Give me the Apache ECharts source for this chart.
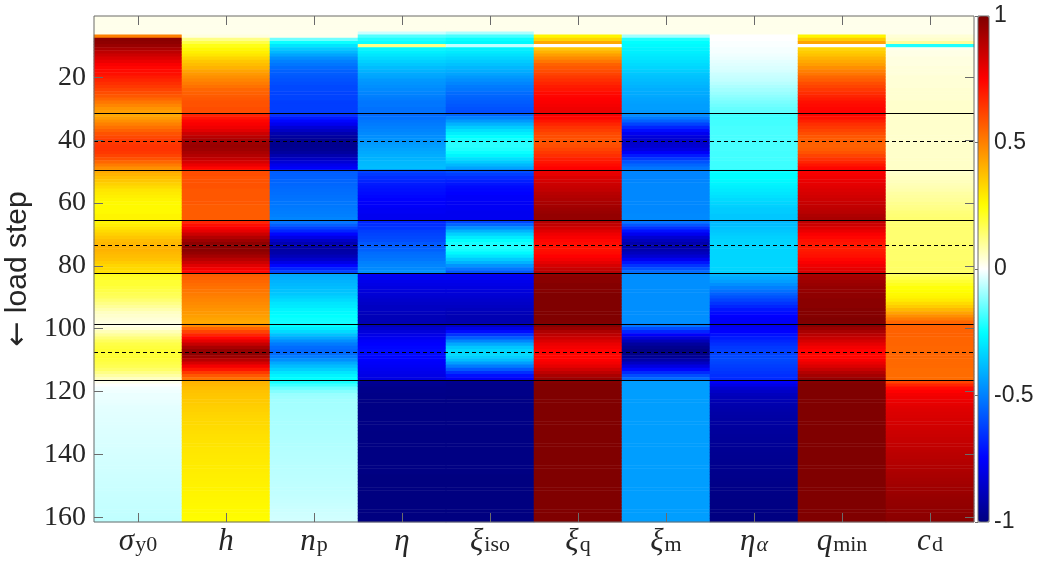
<!DOCTYPE html>
<html><head><meta charset="utf-8">
<script src="https://cdn.jsdelivr.net/npm/echarts@6/dist/echarts.min.js"></script>
<style>html,body{margin:0;padding:0;background:#fff}#c{width:1042px;height:562px}</style>
</head><body><div id="c"></div>
<script>
// ---- tick labels / categories ----
const paramSymbols = ['σ','h','n','η','ξ','ξ','ξ','η','q','c'];
const paramSubs    = ['y0','','p','','iso','q','m','α','min','d'];
const yTickSteps = [20,40,60,80,100,120,140,160];
const colorbarTicks = [-1,-0.5,0,0.5,1];
const solidLines  = [31.5,49.5,65.5,82.5,98.5,116.5];
const dashedLines = [40.5,73.5,107.5];
const nSteps = 161;

// ---- series values (one value per load step 1..161) ----
const sigmaY0 = [0.02,0.02,0.02,0.02,0.02,0.02,
 0.5,
 0.98,0.97,0.95,0.92,0.88,0.85,0.82,0.79,0.76,0.74,0.73,0.72,0.70,0.68,0.66,0.64,0.62,0.60,0.58,0.55,0.52,0.49,0.46,0.44,
 0.42,0.44,0.47,0.50,0.53,0.56,0.59,0.61,0.63,0.64,0.65,0.65,0.64,0.62,0.59,0.55,0.51,0.47,
 0.42,0.40,0.38,0.36,0.34,0.32,0.30,0.29,0.28,0.27,0.26,0.26,0.26,0.26,0.27,0.27,
 0.27,0.28,0.30,0.32,0.34,0.36,0.38,0.39,0.40,0.40,0.39,0.38,0.37,0.35,0.33,0.32,0.31,
 0.22,0.21,0.20,0.20,0.19,0.18,0.17,0.16,0.14,0.12,0.10,0.08,0.06,0.05,0.04,0.03,
 0.02,0.04,0.07,0.10,0.13,0.16,0.18,0.19,0.20,0.20,0.20,0.19,0.18,0.17,0.15,0.12,0.09,0.06,
 0.02,0.00,-0.01,-0.015,-0.02,-0.02,-0.022,-0.024,-0.026,-0.027,-0.028,-0.029,-0.03,-0.031,-0.032,-0.033,-0.034,-0.035,-0.036,-0.037,-0.038,-0.039,-0.04,-0.041,-0.042,-0.043,-0.044,-0.045,-0.046,-0.047,-0.048,-0.049,-0.05,-0.051,-0.052,-0.053,-0.054,-0.055,-0.056,-0.057,-0.058,-0.059,-0.06,-0.061,-0.062];

const hardening = [0.02,0.02,0.02,0.02,0.02,0.02,
 0.03,
 0.12,0.18,0.23,0.26,0.28,0.30,0.33,0.36,0.38,0.40,0.43,0.45,0.47,0.49,0.51,0.53,0.55,0.56,0.57,0.58,0.59,0.59,0.60,0.60,
 0.68,0.71,0.74,0.76,0.78,0.81,0.85,0.89,0.92,0.94,0.95,0.94,0.92,0.90,0.87,0.83,0.79,0.74,
 0.60,0.60,0.59,0.59,0.59,0.59,0.58,0.58,0.58,0.58,0.58,0.57,0.57,0.57,0.57,0.57,
 0.68,0.72,0.76,0.80,0.85,0.90,0.94,0.97,0.98,0.98,0.96,0.93,0.89,0.85,0.81,0.77,0.74,
 0.57,0.56,0.55,0.54,0.53,0.52,0.51,0.50,0.49,0.48,0.47,0.46,0.45,0.44,0.43,0.42,
 0.48,0.55,0.62,0.68,0.74,0.80,0.86,0.92,0.96,0.97,0.94,0.89,0.83,0.77,0.71,0.64,0.58,0.53,
 0.40,0.39,0.38,0.37,0.365,0.36,0.355,0.35,0.345,0.34,0.335,0.33,0.327,0.324,0.321,0.318,0.315,0.312,0.309,0.306,0.303,0.30,0.298,0.296,0.294,0.292,0.29,0.288,0.286,0.284,0.282,0.28,0.278,0.276,0.274,0.272,0.27,0.268,0.266,0.264,0.262,0.26,0.258,0.256,0.254];

const nP = [0.02,0.02,0.02,0.02,0.02,0.02,
 0.02,
 -0.14,-0.24,-0.30,-0.35,-0.39,-0.43,-0.47,-0.50,-0.52,-0.54,-0.56,-0.57,-0.58,-0.59,-0.60,-0.61,-0.61,-0.62,-0.62,-0.62,-0.63,-0.63,-0.63,-0.63,
 -0.65,-0.70,-0.74,-0.78,-0.83,-0.87,-0.91,-0.94,-0.96,-0.97,-0.97,-0.96,-0.94,-0.91,-0.87,-0.83,-0.79,-0.76,
 -0.57,-0.565,-0.56,-0.555,-0.55,-0.545,-0.54,-0.535,-0.53,-0.525,-0.52,-0.515,-0.51,-0.505,-0.50,-0.49,
 -0.52,-0.56,-0.62,-0.68,-0.74,-0.80,-0.86,-0.90,-0.92,-0.93,-0.92,-0.89,-0.85,-0.80,-0.74,-0.68,-0.62,
 -0.42,-0.41,-0.40,-0.39,-0.38,-0.37,-0.36,-0.34,-0.32,-0.30,-0.29,-0.27,-0.26,-0.25,-0.24,-0.23,
 -0.25,-0.28,-0.32,-0.37,-0.42,-0.47,-0.51,-0.54,-0.55,-0.54,-0.51,-0.47,-0.42,-0.38,-0.34,-0.30,-0.27,-0.25,
 -0.23,-0.19,-0.15,-0.12,-0.10,-0.095,-0.09,-0.089,-0.088,-0.087,-0.086,-0.085,-0.084,-0.083,-0.082,-0.081,-0.08,-0.079,-0.078,-0.077,-0.076,-0.075,-0.074,-0.073,-0.072,-0.071,-0.07,-0.069,-0.068,-0.067,-0.066,-0.065,-0.064,-0.063,-0.062,-0.061,-0.06,-0.058,-0.056,-0.054,-0.052,-0.05,-0.048,-0.046,-0.044];

const eta = [0.02,0.02,0.02,0.02,0.02,-0.05,
 -0.17,-0.22,-0.24,0.12,-0.26,-0.28,-0.30,-0.32,-0.34,-0.36,-0.38,-0.40,-0.42,-0.43,-0.45,-0.46,-0.47,-0.48,-0.49,-0.50,-0.51,-0.52,-0.52,-0.53,-0.53,
 -0.54,-0.53,-0.52,-0.51,-0.50,-0.49,-0.48,-0.47,-0.46,-0.45,-0.44,-0.43,-0.42,-0.41,-0.40,-0.39,-0.385,-0.38,
 -0.62,-0.64,-0.66,-0.68,-0.70,-0.71,-0.72,-0.73,-0.74,-0.75,-0.76,-0.76,-0.77,-0.77,-0.78,-0.78,
 -0.68,-0.66,-0.65,-0.63,-0.62,-0.61,-0.60,-0.58,-0.57,-0.56,-0.54,-0.53,-0.52,-0.50,-0.49,-0.48,-0.47,
 -0.77,-0.78,-0.79,-0.80,-0.81,-0.82,-0.83,-0.84,-0.85,-0.86,-0.87,-0.87,-0.88,-0.89,-0.89,-0.90,
 -0.88,-0.85,-0.82,-0.80,-0.78,-0.76,-0.75,-0.74,-0.73,-0.73,-0.74,-0.75,-0.76,-0.77,-0.78,-0.79,-0.80,-0.81,
 -0.96,-0.97,-0.98,-0.98,-0.985,-0.985,-0.99,-0.99,-0.99,-0.99,-0.99,-0.99,-0.99,-0.99,-0.99,-0.99,-0.995,-0.995,-0.995,-0.995,-0.995,-0.995,-0.995,-0.995,-0.995,-0.995,-0.995,-0.995,-0.995,-0.995,-1,-1,-1,-1,-1,-1,-1,-1,-1,-1,-1,-1,-1,-1,-1];

const xiIso = [0.02,0.02,0.02,0.02,0.02,-0.08,
 -0.18,-0.24,-0.26,-0.06,-0.27,-0.29,-0.31,-0.33,-0.35,-0.37,-0.39,-0.41,-0.43,-0.45,-0.47,-0.49,-0.51,-0.52,-0.54,-0.55,-0.56,-0.57,-0.58,-0.59,-0.60,
 -0.55,-0.50,-0.45,-0.40,-0.35,-0.31,-0.28,-0.25,-0.23,-0.21,-0.21,-0.22,-0.24,-0.27,-0.31,-0.35,-0.39,-0.43,
 -0.60,-0.63,-0.66,-0.69,-0.71,-0.73,-0.74,-0.75,-0.76,-0.76,-0.77,-0.77,-0.77,-0.78,-0.78,-0.78,
 -0.62,-0.55,-0.47,-0.40,-0.34,-0.29,-0.25,-0.23,-0.22,-0.23,-0.26,-0.30,-0.35,-0.40,-0.46,-0.52,-0.58,
 -0.77,-0.78,-0.79,-0.80,-0.81,-0.82,-0.83,-0.84,-0.85,-0.86,-0.87,-0.88,-0.89,-0.90,-0.90,-0.91,
 -0.86,-0.80,-0.73,-0.65,-0.57,-0.49,-0.42,-0.36,-0.33,-0.32,-0.34,-0.38,-0.44,-0.51,-0.58,-0.66,-0.72,-0.77,
 -0.97,-0.98,-0.98,-0.985,-0.985,-0.99,-0.99,-0.99,-0.99,-0.99,-0.99,-0.99,-0.99,-0.99,-0.99,-0.995,-0.995,-0.995,-0.995,-0.995,-0.995,-0.995,-0.995,-0.995,-0.995,-0.995,-0.995,-0.995,-0.995,-0.995,-1,-1,-1,-1,-1,-1,-1,-1,-1,-1,-1,-1,-1,-1,-1];

const xiQ = [0.02,0.02,0.02,0.02,0.02,0.02,
 0.27,0.33,0.42,0.0,0.36,0.40,0.44,0.48,0.52,0.56,0.58,0.60,0.62,0.64,0.66,0.68,0.70,0.71,0.73,0.74,0.75,0.76,0.77,0.78,0.79,
 0.76,0.74,0.71,0.68,0.65,0.63,0.61,0.60,0.59,0.59,0.60,0.62,0.64,0.66,0.69,0.71,0.73,0.75,
 0.79,0.80,0.82,0.83,0.85,0.86,0.87,0.89,0.90,0.91,0.92,0.93,0.94,0.95,0.96,0.96,
 0.90,0.87,0.84,0.81,0.78,0.76,0.74,0.73,0.72,0.72,0.73,0.75,0.77,0.80,0.83,0.86,0.89,
 0.97,0.98,0.98,0.99,0.99,0.99,1,1,1,1,1,1,1,1,1,1,
 0.98,0.95,0.91,0.88,0.85,0.82,0.79,0.77,0.75,0.74,0.74,0.75,0.77,0.80,0.84,0.88,0.92,0.95,
 0.99,1,1,1,1,1,1,1,1,1,1,1,1,1,1,1,1,1,1,1,1,1,1,1,1,1,1,1,1,1,1,1,1,1,1,1,1,1,1,1,1,1,1,1,1];

const xiM = [0.02,0.02,0.02,0.02,0.02,0.02,
 -0.09,-0.22,-0.25,-0.26,-0.27,-0.28,-0.29,-0.30,-0.31,-0.32,-0.33,-0.345,-0.36,-0.37,-0.38,-0.39,-0.40,-0.41,-0.415,-0.42,-0.43,-0.435,-0.44,-0.44,-0.45,
 -0.47,-0.51,-0.56,-0.62,-0.68,-0.73,-0.78,-0.82,-0.84,-0.85,-0.84,-0.81,-0.76,-0.70,-0.64,-0.59,-0.55,-0.52,
 -0.49,-0.49,-0.49,-0.49,-0.485,-0.485,-0.485,-0.485,-0.485,-0.485,-0.485,-0.485,-0.485,-0.485,-0.48,-0.48,
 -0.52,-0.58,-0.65,-0.72,-0.78,-0.84,-0.88,-0.91,-0.92,-0.91,-0.88,-0.84,-0.78,-0.71,-0.65,-0.59,-0.54,
 -0.47,-0.47,-0.47,-0.47,-0.47,-0.47,-0.47,-0.47,-0.47,-0.47,-0.47,-0.47,-0.47,-0.47,-0.47,-0.47,
 -0.52,-0.60,-0.68,-0.76,-0.83,-0.89,-0.94,-0.97,-0.99,-0.98,-0.96,-0.92,-0.87,-0.81,-0.74,-0.67,-0.60,-0.54,
 -0.44,-0.44,-0.44,-0.44,-0.44,-0.44,-0.44,-0.44,-0.44,-0.44,-0.44,-0.44,-0.44,-0.44,-0.44,-0.44,-0.44,-0.44,-0.44,-0.44,-0.44,-0.44,-0.44,-0.44,-0.44,-0.44,-0.44,-0.44,-0.44,-0.44,-0.44,-0.44,-0.44,-0.44,-0.44,-0.44,-0.44,-0.44,-0.44,-0.44,-0.44,-0.44,-0.44,-0.44,-0.44];

const etaAlpha = [0.02,0.02,0.02,0.02,0.02,0.02,
 0.0,0.0,-0.005,-0.005,-0.01,-0.01,-0.015,-0.02,-0.025,-0.03,-0.035,-0.04,-0.05,-0.055,-0.06,-0.07,-0.08,-0.09,-0.10,-0.11,-0.12,-0.13,-0.14,-0.15,-0.16,
 -0.19,-0.19,-0.185,-0.185,-0.18,-0.18,-0.18,-0.18,-0.18,-0.18,-0.18,-0.18,-0.185,-0.185,-0.185,-0.19,-0.19,-0.19,
 -0.24,-0.25,-0.25,-0.26,-0.27,-0.28,-0.29,-0.30,-0.31,-0.32,-0.33,-0.34,-0.35,-0.35,-0.36,-0.36,
 -0.39,-0.38,-0.37,-0.36,-0.35,-0.34,-0.335,-0.33,-0.33,-0.33,-0.33,-0.33,-0.33,-0.33,-0.33,-0.33,-0.34,
 -0.40,-0.42,-0.44,-0.47,-0.50,-0.53,-0.56,-0.59,-0.62,-0.65,-0.68,-0.71,-0.73,-0.75,-0.76,-0.77,
 -0.79,-0.77,-0.75,-0.72,-0.70,-0.68,-0.66,-0.64,-0.63,-0.62,-0.61,-0.61,-0.62,-0.63,-0.64,-0.65,-0.66,-0.67,
 -0.76,-0.80,-0.84,-0.86,-0.88,-0.89,-0.90,-0.91,-0.915,-0.92,-0.925,-0.93,-0.933,-0.936,-0.939,-0.942,-0.945,-0.948,-0.951,-0.954,-0.957,-0.96,-0.962,-0.964,-0.966,-0.968,-0.97,-0.972,-0.974,-0.976,-0.978,-0.98,-0.982,-0.984,-0.986,-0.988,-0.99,-0.991,-0.992,-0.993,-0.994,-0.995,-0.996,-0.997,-0.998];

const qMin = [0.02,0.02,0.02,0.02,0.02,0.02,
 0.27,0.35,0.43,0.0,0.33,0.35,0.37,0.40,0.42,0.44,0.47,0.50,0.52,0.55,0.57,0.60,0.62,0.64,0.66,0.68,0.70,0.72,0.73,0.74,0.75,
 0.74,0.72,0.69,0.66,0.64,0.62,0.60,0.58,0.57,0.56,0.56,0.57,0.59,0.62,0.65,0.68,0.71,0.74,
 0.76,0.77,0.78,0.79,0.80,0.81,0.82,0.83,0.84,0.85,0.86,0.87,0.88,0.89,0.91,0.92,
 0.88,0.85,0.82,0.79,0.76,0.74,0.72,0.71,0.70,0.70,0.71,0.72,0.74,0.76,0.78,0.80,0.82,
 0.92,0.93,0.94,0.95,0.96,0.96,0.97,0.97,0.98,0.98,0.98,0.99,0.99,0.99,1,1,
 0.98,0.95,0.92,0.89,0.86,0.83,0.80,0.77,0.75,0.74,0.74,0.76,0.79,0.82,0.86,0.90,0.93,0.96,
 0.99,1,1,1,1,1,1,1,1,1,1,1,1,1,1,1,1,1,1,1,1,1,1,1,1,1,1,1,1,1,1,1,1,1,1,1,1,1,1,1,1,1,1,1,1];

const cD = [0.02,0.02,0.02,0.02,0.02,0.02,
 0.04,0.05,0.10,-0.22,0.02,0.025,0.025,0.03,0.03,0.03,0.035,0.035,0.035,0.04,0.04,0.04,0.04,0.045,0.045,0.045,0.045,0.05,0.05,0.05,0.05,
 0.05,0.05,0.05,0.05,0.05,0.05,0.05,0.05,0.05,0.05,0.052,0.052,0.052,0.052,0.054,0.054,0.054,0.055,
 0.05,0.055,0.06,0.065,0.07,0.075,0.08,0.09,0.095,0.10,0.11,0.115,0.12,0.13,0.135,0.14,
 0.14,0.14,0.14,0.14,0.14,0.14,0.14,0.145,0.145,0.145,0.145,0.145,0.145,0.15,0.15,0.15,0.15,
 0.16,0.18,0.20,0.22,0.24,0.25,0.26,0.27,0.29,0.32,0.35,0.39,0.43,0.47,0.51,0.55,
 0.56,0.56,0.56,0.56,0.555,0.555,0.555,0.55,0.55,0.55,0.55,0.545,0.545,0.545,0.54,0.54,0.54,0.54,
 0.62,0.68,0.73,0.75,0.77,0.78,0.79,0.80,0.81,0.815,0.82,0.825,0.83,0.835,0.84,0.845,0.85,0.855,0.86,0.865,0.87,0.875,0.88,0.885,0.89,0.895,0.90,0.905,0.91,0.915,0.92,0.925,0.93,0.935,0.94,0.945,0.95,0.955,0.96,0.963,0.966,0.969,0.972,0.975,0.978];

const columns = [sigmaY0, hardening, nP, eta, xiIso, xiQ, xiM, etaAlpha, qMin, cD];
const colNames = ['sigmaY0','hardening','nP','eta','xiIso','xiQ','xiM','etaAlpha','qMin','cD'];
columns.forEach((c, i) => { if (c.length !== nSteps) throw new Error(colNames[i] + ' has ' + c.length); });

// colormap (white-centred jet)
const cmap = ['#000080','#0000ff','#0080ff','#00ffff','#ffffff','#ffff00','#ff8000','#ff0000','#800000'];

const loadSteps = [];
for (let s = 1; s <= nSteps; s++) loadSteps.push(String(s));
const paramCats = paramSymbols.map((s, i) => String(i));

const heatData = [];
columns.forEach((col, ci) => col.forEach((v, ri) => heatData.push([ci, ri, v])));

const TXT = '#262626';
const AX = '#6b6b6b';
const isYTick = (idx, val) => yTickSteps.indexOf(Number(val)) >= 0;

const markData = solidLines.map(v => ({ yAxis: v, lineStyle: { type: 'solid', color: '#000', width: 1 } }))
  .concat(dashedLines.map(v => ({ yAxis: v, lineStyle: { type: [4, 3], color: '#000', width: 1 } })));

const chart = echarts.init(document.getElementById('c'), null, { renderer: 'canvas' });
chart.setOption({
  animation: false,
  backgroundColor: '#fff',
  grid: [
    { left: 94, top: 16, width: 880, height: 506, outerBoundsMode: 'none', containLabel: false, show: true, borderColor: AX, borderWidth: 1, backgroundColor: 'transparent', z: 10 },
    { left: 978, top: 16, width: 11, height: 506, outerBoundsMode: 'none', containLabel: false, show: true, borderColor: AX, borderWidth: 1, backgroundColor: 'transparent', z: 10 }
  ],
  xAxis: [
    { type: 'category', gridIndex: 0, data: paramCats, position: 'bottom', z: 10,
      axisLine: { show: false },
      axisTick: { show: true, inside: true, length: 9, alignWithLabel: true, lineStyle: { color: AX } },
      axisLabel: { margin: 4, interval: 0,
        formatter: (val, idx) => '{m|' + paramSymbols[idx] + '}' + (paramSubs[idx] ? '{' + (idx === 7 ? 'g' : 's') + '|' + paramSubs[idx] + '}' : ''),
        rich: {
          m: { fontFamily: 'Liberation Serif', fontStyle: 'italic', fontSize: 31, lineHeight: 34, color: TXT, verticalAlign: 'top' },
          s: { fontFamily: 'Liberation Serif', fontSize: 22, lineHeight: 34, color: TXT, verticalAlign: 'top', padding: [8, 0, 0, 1] },
          g: { fontFamily: 'Liberation Serif', fontStyle: 'italic', fontSize: 22, lineHeight: 34, color: TXT, verticalAlign: 'top', padding: [8, 0, 0, 1] }
        } },
      splitLine: { show: false } },
    { type: 'category', gridIndex: 0, data: paramCats, position: 'top', z: 10,
      axisLine: { show: false },
      axisTick: { show: true, inside: true, length: 9, alignWithLabel: true, lineStyle: { color: AX } },
      axisLabel: { show: false }, splitLine: { show: false } },
    { type: 'value', gridIndex: 1, min: 0, max: 1, show: false }
  ],
  yAxis: [
    { type: 'category', gridIndex: 0, data: loadSteps, inverse: true, position: 'left', z: 10,
      name: '{a|←} load step', nameLocation: 'middle', nameGap: 58,
      nameTextStyle: { fontFamily: 'Liberation Sans', fontSize: 30, color: TXT,
        rich: { a: { fontFamily: 'DejaVu Sans', fontSize: 30, color: TXT } } },
      axisLine: { show: false },
      axisTick: { show: true, inside: true, length: 9, alignWithLabel: true, interval: isYTick, lineStyle: { color: AX } },
      axisLabel: { interval: isYTick, margin: 8, fontFamily: 'Liberation Serif', fontSize: 28, color: TXT },
      splitLine: { show: false } },
    { type: 'value', gridIndex: 0, min: 0.5, max: nSteps + 0.5, inverse: true, show: false },
    { type: 'category', gridIndex: 0, data: loadSteps, inverse: true, position: 'right', z: 10,
      axisLine: { show: false },
      axisTick: { show: true, inside: true, length: 9, alignWithLabel: true, interval: isYTick, lineStyle: { color: AX } },
      axisLabel: { show: false }, splitLine: { show: false } },
    { type: 'value', gridIndex: 1, min: colorbarTicks[0], max: colorbarTicks[colorbarTicks.length - 1], interval: 0.5, position: 'right', z: 10,
      axisLine: { show: false },
      axisTick: { show: true, inside: true, length: 3, lineStyle: { color: AX } },
      axisLabel: { margin: 5, fontFamily: 'Liberation Sans', fontSize: 23, color: TXT,
        formatter: v => String(v) },
      splitLine: { show: false } }
  ],
  visualMap: {
    type: 'continuous', seriesIndex: 0, min: -1, max: 1, inRange: { color: cmap },
    left: 978, top: 16, itemWidth: 11, itemHeight: 506, padding: 0,
    calculable: false, hoverLink: false, text: null, showLabel: false, z: 4
  },
  series: [
    { type: 'heatmap', xAxisIndex: 0, yAxisIndex: 0, data: heatData, progressive: 0,
      itemStyle: { borderWidth: 0 }, emphasis: { disabled: true }, silent: true },
    { type: 'line', xAxisIndex: 0, yAxisIndex: 1, data: [], silent: true, z: 5,
      markLine: { silent: true, symbol: ['none', 'none'], label: { show: false }, animation: false, data: markData } },
    { type: 'line', xAxisIndex: 2, yAxisIndex: 3, data: [], silent: true }
  ]
});
</script></body></html>
